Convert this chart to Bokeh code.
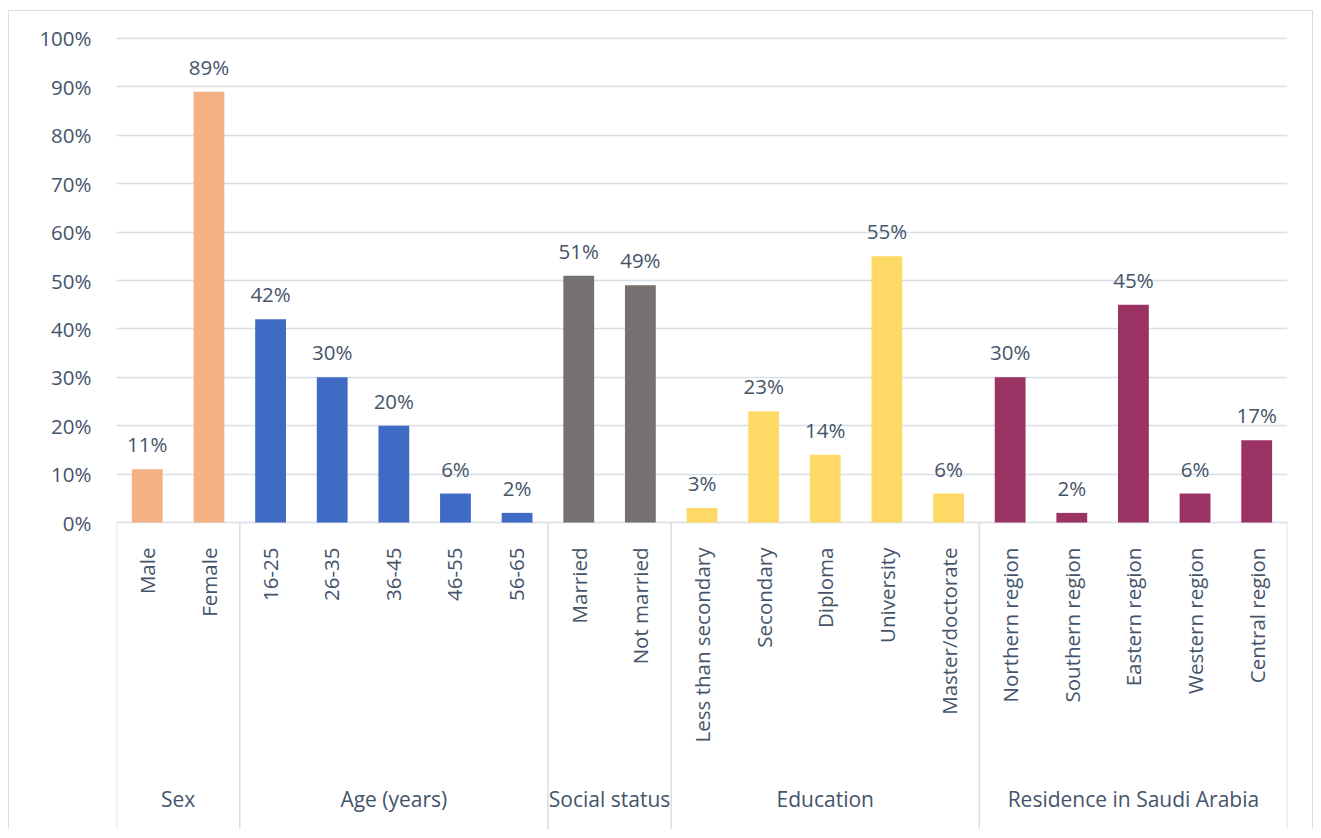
import numpy as np
from bokeh.plotting import figure
from bokeh.models import Range1d, FixedTicker, PrintfTickFormatter, ColumnDataSource
from bokeh.core.properties import value
from bokeh.embed import file_html
from bokeh.resources import INLINE

# ---- data ----
groups = ["Sex", "Age (years)", "Social status", "Education", "Residence in Saudi Arabia"]
sex_cats = ["Male", "Female"]
sex_vals = [11, 89]
age_cats = ["16-25", "26-35", "36-45", "46-55", "56-65"]
age_vals = [42, 30, 20, 6, 2]
social_cats = ["Married", "Not married"]
social_vals = [51, 49]
edu_cats = ["Less than secondary", "Secondary", "Diploma", "University", "Master/doctorate"]
edu_vals = [3, 23, 14, 55, 6]
res_cats = ["Northern region", "Southern region", "Eastern region", "Western region", "Central region"]
res_vals = [30, 2, 45, 6, 17]
y_ticks = [0, 10, 20, 30, 40, 50, 60, 70, 80, 90, 100]

group_colors = ["#F4B183", "#3F6BC5", "#767171", "#FFD966", "#9B3264"]

all_cats = [sex_cats, age_cats, social_cats, edu_cats, res_cats]
all_vals = [sex_vals, age_vals, social_vals, edu_vals, res_vals]

# ---- build table ----
cats, vals, cols = [], [], []
for c, v, col in zip(all_cats, all_vals, group_colors):
    cats += c
    vals += v
    cols += [col] * len(c)
n = len(cats)
xs = [i + 0.5 for i in range(n)]
labels = [f"{v}%" for v in vals]
bar_src = ColumnDataSource(dict(x=xs, top=vals, color=cols, label=labels, cat=cats))

sizes = [len(c) for c in all_cats]
bounds = [0] + list(np.cumsum(sizes))
group_x = [(bounds[i] + bounds[i + 1]) / 2 for i in range(len(groups))]

TEXT = "#44546A"
GRID = "#D9DDE5"
FONT = "Open Sans"

PX_PER_UNIT = 4.84  # pixels per percent
Y_START = -63.4
Y_END = 100.4

p = figure(width=1305, height=819, output_backend="svg", toolbar_location=None,
           x_range=Range1d(0, n), y_range=Range1d(Y_START, Y_END),
           min_border_left=107, min_border_right=27, min_border_top=25, min_border_bottom=1)
p.styles = {"border-left": "1px solid " + GRID, "border-top": "1px solid " + GRID,
            "border-right": "1px solid " + GRID, "margin-top": "10px", "margin-left": "8px"}
p.outline_line_color = None
p.background_fill_color = "white"
p.border_fill_color = "white"

p.xaxis.visible = False
p.xgrid.visible = False

ticker = FixedTicker(ticks=y_ticks)
p.yaxis.ticker = ticker
p.yaxis.formatter = PrintfTickFormatter(format="%d%%")
p.yaxis.axis_line_color = None
p.yaxis.major_tick_line_color = None
p.yaxis.minor_tick_line_color = None
p.yaxis.major_tick_out = 0
p.yaxis.major_tick_in = 0
p.yaxis.major_label_standoff = 25
p.yaxis.major_label_text_font = FONT
p.yaxis.major_label_text_font_size = "20.5px"
p.yaxis.major_label_text_color = TEXT

p.ygrid.ticker = ticker
p.ygrid.grid_line_color = GRID
p.ygrid.grid_line_width = 1.5

# separators below the axis
p.segment(x0=bounds, y0=[0] * len(bounds), x1=bounds, y1=[Y_START] * len(bounds),
          line_color=GRID, line_width=1.5)

# bars
p.vbar(x="x", top="top", bottom=0, width=0.5, fill_color="color", line_color=None, source=bar_src)

# value labels
p.text(x="x", y="top", text="label", source=bar_src, text_align="center", text_baseline="middle",
       y_offset=-25, text_font=value(FONT), text_font_size="20.5px", text_color=TEXT)

# category labels (rotated)
p.text(x="x", y=-25 / PX_PER_UNIT, text="cat", source=bar_src, angle=np.pi / 2,
       text_align="right", text_baseline="middle",
       text_font=value(FONT), text_font_size="20.5px", text_color=TEXT)

# group labels
p.text(x=group_x, y=[-276 / PX_PER_UNIT] * len(groups), text=groups,
       text_align="center", text_baseline="middle",
       text_font=value(FONT), text_font_size="21px", text_color=TEXT)

open("out.html", "w").write(file_html(p, INLINE))
